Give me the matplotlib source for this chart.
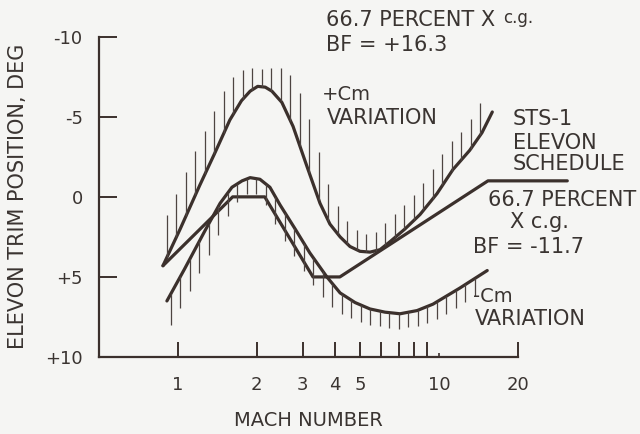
import numpy as np
import matplotlib.pyplot as plt
from matplotlib.collections import LineCollection

# ------ data (Mach number, elevon trim deg; negative = up) ------
mach_pos_cm = [0.876, 1.02, 1.21, 1.39, 1.58, 1.75, 1.89, 2.02, 2.16, 2.29, 2.50, 2.76, 3.12,
               3.50, 3.82, 4.18, 4.56, 4.98, 5.44, 5.94, 6.49, 7.41, 8.46, 9.82,
               11.3, 13.1, 14.6, 16.0]
elev_pos_cm = [4.3, 2.0, -0.7, -2.8, -4.8, -6.0, -6.6, -6.9, -6.85, -6.6, -5.9, -4.4, -1.9,
               0.4, 1.7, 2.5, 3.1, 3.4, 3.45, 3.3, 2.8, 2.0, 1.1, -0.2,
               -1.7, -2.9, -4.0, -5.3]

mach_neg_cm = [0.907, 1.06, 1.27, 1.45, 1.61, 1.76, 1.89, 2.06, 2.25, 2.46, 2.81, 3.20,
               3.72, 4.18, 4.77, 5.44, 6.21, 7.09, 8.24, 9.48, 12.0, 15.3]
elev_neg_cm = [6.5, 4.5, 2.1, 0.4, -0.6, -1.0, -1.2, -1.1, -0.6, 0.5, 2.0, 3.5,
               5.0, 6.0, 6.6, 7.0, 7.2, 7.3, 7.1, 6.7, 5.7, 4.6]

mach_sched = [0.876, 1.62, 2.15, 3.29, 4.17, 15.4, 31.0]
elev_sched = [4.3, 0.0, 0.0, 5.0, 5.0, -1.0, -1.0]

ytick_vals = [-10, -5, 0, 5, 10]
ytick_text = ['-10', '-5', '0', '+5', '+10']
xtick_vals = [1, 2, 3, 4, 5, 6, 7, 8, 9, 20]
xtick_text = ['1', '2', '3', '4', '5', '', '', '', '', '20']

#------- figure / axes -------
ink = '#3b302c'
txt = '#3a3431'
bg = '#f5f5f3'
fig = plt.figure(figsize=(6.4, 4.34), dpi=100, facecolor=bg)
ax = fig.add_axes([0.1553, 0.1774, 0.7367, 0.7380])
ax.set_facecolor(bg)
ax.set_xscale('log')
ax.set_xlim(0.5, 32)
ax.set_ylim(10, -10)

for s in ['top', 'right']:
    ax.spines[s].set_visible(False)
for s in ['left', 'bottom']:
    ax.spines[s].set_linewidth(1.6)
    ax.spines[s].set_color(ink)
ax.spines['bottom'].set_bounds(0.5, 20)

ax.set_yticks(ytick_vals, labels=ytick_text)
ax.set_xticks(xtick_vals, labels=xtick_text)
ax.set_xticks([10], labels=['10'], minor=True)
ax.tick_params(axis='y', direction='in', length=13, width=1.4, pad=12,
               labelsize=13, colors=ink, labelcolor=txt)
ax.tick_params(axis='x', which='major', direction='in', length=11, width=1.4,
               pad=14, labelsize=13, colors=ink, labelcolor=txt)
ax.tick_params(axis='x', which='minor', direction='in', length=3, width=1.2,
               pad=14, labelsize=13, colors=ink, labelcolor=txt)

#-------- curves --------
kw = dict(color=ink, lw=2.3, solid_capstyle='round', solid_joinstyle='round', clip_on=False)
ax.plot(mach_pos_cm, elev_pos_cm, **kw)
ax.plot(mach_neg_cm, elev_neg_cm, **kw)
ax.plot(mach_sched, elev_sched, **kw)


#-------- hatching along the Cm variation curves --------
def hatch(mach, elev, side, width, start, stop, step=9.5):
    pts = ax.transData.transform(np.column_stack([mach, elev]))
    xs = np.arange(pts[0, 0] + start, pts[-1, 0] - stop, step)
    ys = np.interp(xs, pts[:, 0], pts[:, 1])
    slope = np.gradient(ys, xs)
    ln = width * np.sqrt(1 + slope ** 2)
    inv = ax.transData.inverted()
    segs = [inv.transform([(x, y), (x, y + side * l)]) for x, y, l in zip(xs, ys, ln)]
    ax.add_collection(LineCollection(segs, colors='#4d4441', linewidths=0.9))


hatch(mach_pos_cm, elev_pos_cm, +1, 18, 4, 4)
hatch(mach_neg_cm, elev_neg_cm, -1, 15, 4, 12)

#-------- labels --------
def label(x, y, s, size=15, **k):
    fig.text(x / 640, 1 - y / 434, s, fontsize=size, color=txt, va='center', **k)


label(326, 20, '66.7 PERCENT X')
label(503, 18, 'c.g.', size=12)
label(326, 45, 'BF = +16.3')
label(322, 95, '+Cm', size=14)
label(327, 118, 'VARIATION')
label(513, 119, 'STS-1')
label(513, 143, 'ELEVON')
label(513, 164, 'SCHEDULE')
label(488, 200, '66.7 PERCENT')
label(510, 222, 'X c.g.')
label(473, 247, 'BF = -11.7')
label(473, 297, '-Cm', size=14)
label(475, 319, 'VARIATION')
label(18, 196, 'ELEVON TRIM POSITION, DEG', size=15, rotation=90, ha='center')
label(308, 420, 'MACH NUMBER', size=14, ha='center')

fig.savefig('out.png', dpi=100, facecolor=bg)
